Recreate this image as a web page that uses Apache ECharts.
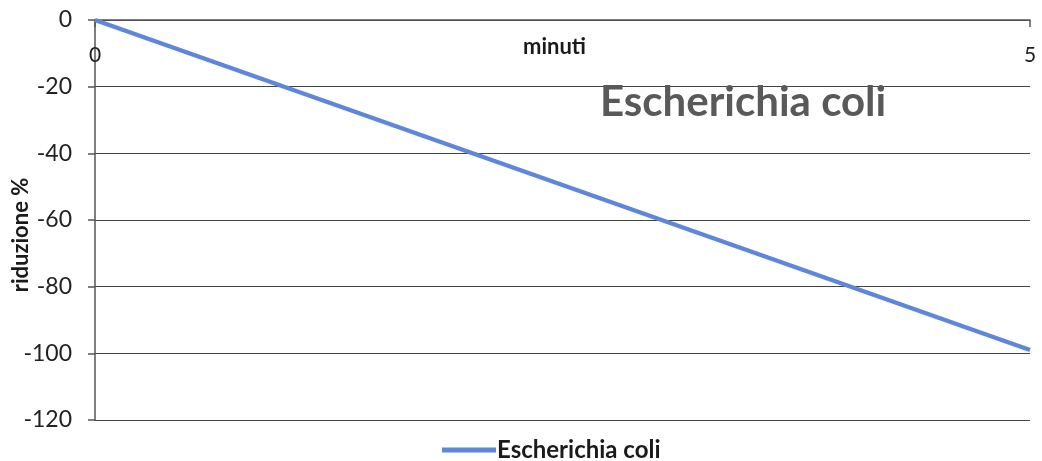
<!DOCTYPE html>
<html>
<head>
<meta charset="utf-8">
<script src="https://cdn.jsdelivr.net/npm/echarts@6/dist/echarts.min.js"></script>
<style>html,body{margin:0;padding:0;background:#fff;}#c{width:1042px;height:461px;}</style>
</head>
<body>
<div id="c"></div>
<script>
const minutes = [0, 5];
const reduction = [0, -99];
const seriesName = 'Escherichia coli';
const chartTitle = 'Escherichia coli';
const xName = 'minuti';
const yName = 'riduzione %';

const FONT = 'Lato, "Open Sans", sans-serif';
const chart = echarts.init(document.getElementById('c'));
chart.setOption({
  backgroundColor: '#fff',
  animation: false,
  title: {
    text: chartTitle,
    left: 595, top: 76,
    textStyle: { fontFamily: FONT, fontSize: 42, fontWeight: 'bold', color: '#595959' }
  },
  legend: {
    top: 433, left: 437,
    icon: 'rect', itemWidth: 54, itemHeight: 5, itemGap: 0,
    textStyle: { fontFamily: FONT, fontSize: 24, fontWeight: 'bold', color: '#1a1a1a', padding: [0,0,0,-4] },
    data: [seriesName]
  },
  graphic: [
    { type: 'text', left: 523, top: 36, style: { text: xName, font: 'bold 22px ' + FONT, fill: '#1a1a1a' } },
    { type: 'text', x: 21, y: 235, rotation: Math.PI / 2,
      style: { text: yName, font: 'bold 22px ' + FONT, fill: '#1a1a1a', align: 'center', verticalAlign: 'middle' } }
  ],
  grid: { left: 95, right: 12, top: 20, bottom: 41, outerBoundsMode: 'none' },
  xAxis: {
    type: 'value', position: 'top', min: 0, max: 5, interval: 5,
    axisLine: { show: true, onZero: false, lineStyle: { color: '#555', width: 1.5 } },
    axisTick: { show: true, inside: true, length: 7, lineStyle: { color: '#555', width: 1.5 } },
    axisLabel: { inside: true, margin: 25, fontFamily: FONT, fontSize: 21, color: '#222' },
    splitLine: { show: false }
  },
  yAxis: {
    type: 'value', min: -120, max: 0, interval: 20,
    axisLine: { show: true, lineStyle: { color: '#555', width: 1.5 } },
    axisTick: { show: true, length: 7, lineStyle: { color: '#555', width: 1.5 } },
    axisLabel: { margin: 23, fontFamily: FONT, fontSize: 23, color: '#222' },
    splitLine: { show: true, lineStyle: { color: '#444', width: 1.2 } }
  },
  series: [{
    name: seriesName, type: 'line',
    data: minutes.map((m, i) => [m, reduction[i]]),
    symbol: 'none',
    lineStyle: { color: '#5F87D9', width: 4.5 },
    itemStyle: { color: '#5F87D9' }
  }]
});
</script>
</body>
</html>
